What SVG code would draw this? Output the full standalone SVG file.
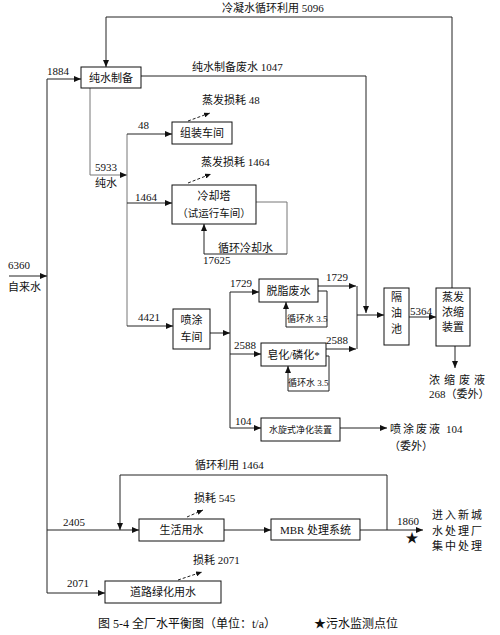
<svg xmlns="http://www.w3.org/2000/svg" width="500" height="635" viewBox="0 0 500 635">
<style>
text{font-family:"Liberation Serif","Noto Sans CJK SC",serif;font-size:11px;fill:#111}
.c{text-anchor:middle}
.s{font-size:9px}
.cap{font-size:12px}
rect{fill:#fff;stroke:#111;stroke-width:1}
#connectors path{fill:none;stroke:#222;stroke-width:1}
#connectors path.g{stroke:#777}
#connectors path.d{stroke-dasharray:3 2}
</style>
<defs>
<marker id="a" markerWidth="7" markerHeight="6" refX="7" refY="3" orient="auto" markerUnits="userSpaceOnUse"><path d="M0,0 L7,3 L0,6 Z" fill="#111"/></marker>
<marker id="sa" markerWidth="6" markerHeight="5" refX="6" refY="2.5" orient="auto" markerUnits="userSpaceOnUse"><path d="M0,0 L6,2.5 L0,5 Z" fill="#111"/></marker>
</defs>
<rect x="0" y="0" width="500" height="635" style="fill:#fff;stroke:none"/>
<g id="connectors">
<path d="M452,288 V17 H106 V67" marker-end="url(#a)"/>
<path d="M9,276 H47" marker-end="url(#a)"/>
<path d="M47,79 V593"/>
<path d="M47,79 H81" marker-end="url(#a)"/>
<path d="M141,76 H366 V313" marker-end="url(#a)"/>
<path class="g" d="M90,88 V175 H127" marker-end="url(#a)"/>
<path class="g" d="M127,134 V326"/>
<path d="M127,134 H172" marker-end="url(#a)"/>
<path d="M127,203 H172" marker-end="url(#a)"/>
<path d="M127,326 H173" marker-end="url(#a)"/>
<path class="g" d="M256,202 H287 V254"/>
<path d="M287,254 H204 V224" marker-end="url(#a)"/>
<path d="M210,333 H230" marker-end="url(#a)"/>
<path d="M230,292 V428"/>
<path d="M230,292 H259" marker-end="url(#a)"/>
<path d="M318,286 H356" marker-end="url(#a)"/>
<path d="M318,291 H327 V327 H286 V302" marker-end="url(#a)"/>
<path d="M230,354 H261" marker-end="url(#a)"/>
<path d="M326,349 H356" marker-end="url(#a)"/>
<path d="M326,356 H329 V391 H288 V366" marker-end="url(#a)"/>
<path d="M357,286 V349"/>
<path d="M357,315 H384" marker-end="url(#a)"/>
<path d="M230,428 H261" marker-end="url(#a)"/>
<path d="M340,428 H387" marker-end="url(#a)"/>
<path d="M409,317 H436" marker-end="url(#a)"/>
<path d="M455,346 V368" marker-end="url(#a)"/>
<path d="M387,530 V475 H120 V530" marker-end="url(#a)"/>
<path d="M47,530 H139" marker-end="url(#a)"/>
<path d="M224,530 H271" marker-end="url(#a)"/>
<path d="M360,530 H423" marker-end="url(#a)"/>
<path d="M47,593 H105" marker-end="url(#a)"/>
<path class="d" d="M188,121 L210,113" marker-end="url(#sa)"/>
<path class="d" d="M188,183 L211,174" marker-end="url(#sa)"/>
<path class="d" d="M187,517 L203,510" marker-end="url(#sa)"/>
<path class="d" d="M178,580 L202,572" marker-end="url(#sa)"/>
</g>
<g id="labels">
<text x="222" y="12">冷凝水循环利用 5096</text>
<text x="192" y="71">纯水制备废水 1047</text>
<text x="47" y="75">1884</text>
<text x="8" y="269">6360</text>
<text x="8" y="291">自来水</text>
<text x="138" y="129">48</text>
<text x="202" y="104">蒸发损耗 48</text>
<text x="95" y="171">5933</text>
<text x="95" y="187">纯水</text>
<text x="135" y="201">1464</text>
<text x="201" y="166">蒸发损耗 1464</text>
<text x="218" y="252">循环冷却水</text>
<text x="203" y="264">17625</text>
<text x="138" y="321">4421</text>
<text x="230" y="287">1729</text>
<text x="326" y="281">1729</text>
<text class="s" x="287" y="322">循环水 3.5</text>
<text x="234" y="349">2588</text>
<text x="326" y="344">2588</text>
<text class="s" x="288" y="386">循环水 3.5</text>
<text x="235" y="425">104</text>
<text x="390" y="433" letter-spacing="2">喷涂废液</text>
<text x="446" y="433">104</text>
<text x="389" y="450">（委外）</text>
<text x="410" y="315">5364</text>
<text x="429" y="384" letter-spacing="4">浓缩废液</text>
<text x="429" y="398">268（委外）</text>
<text x="195" y="469">循环利用 1464</text>
<text x="194" y="502">损耗 545</text>
<text x="63" y="526">2405</text>
<text x="397" y="525">1860</text>
<text x="412" y="542" class="c" style="font-size:13px">★</text>
<text x="432" y="519" letter-spacing="2">进入新城</text>
<text x="432" y="535" letter-spacing="2">水处理厂</text>
<text x="432" y="550" letter-spacing="2">集中处理</text>
<text x="193" y="564">损耗 2071</text>
<text x="67" y="587">2071</text>
<text class="cap" x="98" y="628">图 5-4 全厂水平衡图（单位：t/a）</text>
<text class="cap" x="314" y="628">★污水监测点位</text>
</g>
<g id="n_purify"><rect x="81" y="67" width="60" height="21"/><text class="c" x="111" y="82">纯水制备</text></g>
<g id="n_assembly"><rect x="172" y="122" width="60" height="22"/><text class="c" x="202" y="137">组装车间</text></g>
<g id="n_cooling"><rect x="172" y="185" width="84" height="39"/><text class="c" x="214" y="200">冷却塔</text><text class="c" x="214" y="217" style="font-size:10.5px">（试运行车间）</text></g>
<g id="n_spray"><rect x="173" y="309" width="37" height="40"/><text class="c" x="191.5" y="324">喷涂</text><text class="c" x="191.5" y="341">车间</text></g>
<g id="n_degrease"><rect x="259" y="279" width="59" height="23"/><text class="c" x="288.5" y="295">脱脂废水</text></g>
<g id="n_phos"><rect x="261" y="343" width="65" height="23"/><text class="c" x="293.5" y="359">皂化/磷化*</text></g>
<g id="n_cyclone"><rect x="261" y="418" width="79" height="23"/><text class="c s" x="300.5" y="433">水旋式净化装置</text></g>
<g id="n_oil"><rect x="384" y="288" width="25" height="57"/><text class="c" x="396.5" y="301">隔</text><text class="c" x="396.5" y="317">油</text><text class="c" x="396.5" y="333">池</text></g>
<g id="n_evap"><rect x="436" y="288" width="34" height="58"/><text class="c" x="453" y="301">蒸发</text><text class="c" x="453" y="316">浓缩</text><text class="c" x="453" y="331">装置</text></g>
<g id="n_domestic"><rect x="139" y="519" width="85" height="22"/><text class="c" x="181.5" y="534">生活用水</text></g>
<g id="n_mbr"><rect x="271" y="519" width="89" height="21"/><text class="c" x="315.5" y="534">MBR 处理系统</text></g>
<g id="n_road"><rect x="105" y="581" width="116" height="22"/><text class="c" x="163" y="596">道路绿化用水</text></g>
</svg>
